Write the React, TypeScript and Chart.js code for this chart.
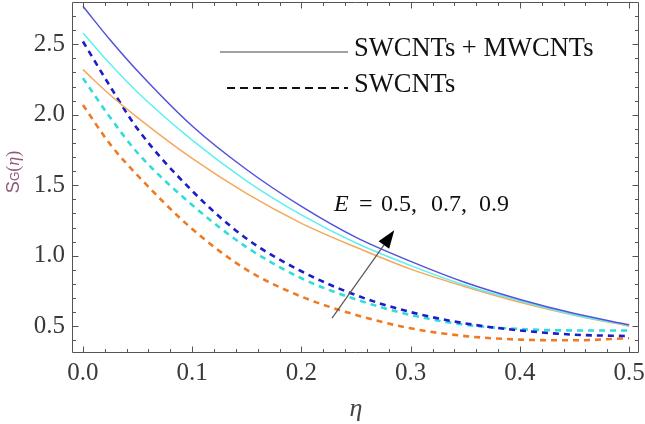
import React, { useEffect, useRef } from "react";
import { Chart, registerables } from "chart.js";
Chart.register(...registerables);

const eta = [0, 0.025, 0.05, 0.1, 0.15, 0.2, 0.25, 0.3, 0.35, 0.4, 0.45, 0.5];
const hybridE09 = [2.77, 2.53, 2.31, 1.92, 1.61, 1.35, 1.13, 0.96, 0.81, 0.69, 0.59, 0.51];
const hybridE07 = [2.58, 2.36, 2.16, 1.82, 1.53, 1.29, 1.09, 0.93, 0.79, 0.68, 0.58, 0.505];
const hybridE05 = [2.32, 2.14, 1.98, 1.69, 1.44, 1.23, 1.06, 0.905, 0.78, 0.67, 0.578, 0.5];
const swE09 = [2.52, 2.2, 1.9, 1.46, 1.12, 0.89, 0.72, 0.6, 0.52, 0.47, 0.44, 0.43];
const swE07 = [2.26, 1.98, 1.73, 1.36, 1.06, 0.84, 0.69, 0.58, 0.51, 0.48, 0.47, 0.47];
const swE05 = [2.07, 1.79, 1.57, 1.19, 0.9, 0.71, 0.58, 0.485, 0.43, 0.405, 0.4, 0.415];

const xTicks = [0, 0.1, 0.2, 0.3, 0.4, 0.5];
const yTicks = [0.5, 1.0, 1.5, 2.0, 2.5];
const legendLabels = ["SWCNTs + MWCNTs", "SWCNTs"];
const annotationParts = ["=", "0.5,", "0.7,", "0.9"];
// arrow in data coordinates: tail -> head
const arrowTail = { x: 0.228, y: 0.557 };
const arrowHead = { x: 0.285, y: 1.18 };

const SERIF = "'Liberation Serif', 'Times New Roman', serif";

export default function App() {
  const ref = useRef<HTMLCanvasElement>(null);
  useEffect(() => {
    const canvas = ref.current!;
    const mk = (label: string, data: number[], color: string, width: number, dash: number[]) => ({
      label,
      data: eta.map((x, i) => ({ x, y: data[i] })),
      borderColor: color,
      borderWidth: width,
      borderDash: dash,
      pointRadius: 0,
      fill: false,
      cubicInterpolationMode: "monotone" as const,
    });

    const framePlugin = {
      id: "frame",
      afterDatasetsDraw(chart: any) {
        const c = chart.ctx as CanvasRenderingContext2D;
        const { left, right, top, bottom } = chart.chartArea;
        const xs = chart.scales.x;
        const ys = chart.scales.y;
        c.save();
        c.strokeStyle = "#555";
        c.lineWidth = 1;
        const L = Math.round(left) + 0.5, R = Math.round(right) - 0.5;
        const T = Math.round(top) + 0.5, B = Math.round(bottom) - 0.5;
        c.beginPath();
        c.rect(L, T, R - L, B - T);
        c.stroke();
        c.beginPath();
        for (let i = 0; i <= 25; i++) {
          const v = i * 0.02;
          const px = Math.round(xs.getPixelForValue(v)) + 0.5;
          const len = i % 5 === 0 ? 6 : 3.5;
          c.moveTo(px, B); c.lineTo(px, B - len);
          c.moveTo(px, T); c.lineTo(px, T + len);
        }
        for (let i = 4; i <= 27; i++) {
          const v = i * 0.1;
          const py = Math.round(ys.getPixelForValue(v)) + 0.5;
          const len = i % 5 === 0 ? 6 : 3.5;
          c.moveTo(L, py); c.lineTo(L + len, py);
          c.moveTo(R, py); c.lineTo(R - len, py);
        }
        c.stroke();

        // legend
        c.strokeStyle = "#444";
        c.lineWidth = 1.2;
        c.beginPath(); c.moveTo(220, 52); c.lineTo(348, 52); c.stroke();
        c.strokeStyle = "#111";
        c.lineWidth = 2;
        c.setLineDash([8, 5]);
        c.beginPath(); c.moveTo(227, 88); c.lineTo(348, 88); c.stroke();
        c.setLineDash([]);
        c.fillStyle = "#111";
        c.font = `26.5px ${SERIF}`;
        c.textBaseline = "alphabetic";
        c.textAlign = "left";
        c.fillText(legendLabels[0], 354, 56);
        c.fillText(legendLabels[1], 354, 92);

        // annotation text
        c.font = `italic 24px ${SERIF}`;
        c.fillText("E", 334, 211);
        c.font = `24px ${SERIF}`;
        const xsPos = [359, 381, 431, 479];
        annotationParts.forEach((t, i) => c.fillText(t, xsPos[i], 211));

        // arrow
        const x1 = xs.getPixelForValue(arrowTail.x), y1 = ys.getPixelForValue(arrowTail.y);
        const x2 = xs.getPixelForValue(arrowHead.x), y2 = ys.getPixelForValue(arrowHead.y);
        const ang = Math.atan2(y2 - y1, x2 - x1);
        const hl = 18, hw = 6.5;
        const bx = x2 - hl * Math.cos(ang), by = y2 - hl * Math.sin(ang);
        c.strokeStyle = "#555";
        c.lineWidth = 1.2;
        c.beginPath(); c.moveTo(x1, y1); c.lineTo(bx, by); c.stroke();
        c.fillStyle = "#000";
        c.beginPath();
        c.moveTo(x2, y2);
        c.lineTo(bx + hw * Math.sin(ang), by - hw * Math.cos(ang));
        c.lineTo(bx - hw * Math.sin(ang), by + hw * Math.cos(ang));
        c.closePath();
        c.fill();

        // x title
        c.fillStyle = "#444";
        c.font = `italic 26px ${SERIF}`;
        c.textAlign = "center";
        c.fillText("η", 356, 416);

        // y title
        c.save();
        c.translate(19, 172);
        c.rotate(-Math.PI / 2);
        c.fillStyle = "#8c5878";
        c.textAlign = "left";
        const parts: [string, string][] = [
          ["S", `18px 'Liberation Sans', sans-serif`],
          ["G", `12px 'Liberation Sans', sans-serif`],
          ["(", `18px ${SERIF}`],
          ["η", `italic 18px ${SERIF}`],
          [")", `18px ${SERIF}`],
        ];
        let total = 0;
        const widths = parts.map(([t, f]) => { c.font = f; const w = c.measureText(t).width; total += w; return w; });
        let xx = -total / 2;
        parts.forEach(([t, f], i) => { c.font = f; c.fillText(t, xx, 0); xx += widths[i]; });
        c.restore();
        c.restore();
      },
    };

    const chart = new Chart(canvas, {
      type: "line",
      data: {
        datasets: [
          mk("SWCNTs + MWCNTs E=0.9", hybridE09, "#5252dc", 1.5, []),
          mk("SWCNTs + MWCNTs E=0.7", hybridE07, "#5cf0f0", 1.5, []),
          mk("SWCNTs + MWCNTs E=0.5", hybridE05, "#f5a85c", 1.5, []),
          mk("SWCNTs E=0.9", swE09, "#1c1cc8", 2.6, [6, 5]),
          mk("SWCNTs E=0.7", swE07, "#30dcdc", 2.6, [6, 5]),
          mk("SWCNTs E=0.5", swE05, "#f07a22", 2.6, [6, 5]),
        ],
      },
      options: {
        animation: false,
        responsive: false,
        maintainAspectRatio: false,
        layout: { padding: { top: 2, right: 6, left: 0, bottom: 0 } },
        plugins: { legend: { display: false }, tooltip: { enabled: false } },
        scales: {
          x: {
            type: "linear",
            min: -0.01,
            max: 0.509,
            afterBuildTicks: (s: any) => { s.ticks = xTicks.map((v) => ({ value: v })); },
            afterFit: (s: any) => { s.height = 71; s.paddingLeft = 0; s.paddingRight = 0; },
            ticks: {
              callback: (v: any) => Number(v).toFixed(1),
              font: { family: "Liberation Serif", size: 25 },
              color: "#3a3a3a",
              padding: 5,
              maxRotation: 0,
              autoSkip: false,
            },
            grid: { display: false, drawTicks: false },
            border: { display: false },
          },
          y: {
            type: "linear",
            min: 0.31,
            max: 2.8,
            afterBuildTicks: (s: any) => { s.ticks = yTicks.map((v) => ({ value: v })); },
            afterFit: (s: any) => { s.width = 72; s.paddingTop = 0; s.paddingBottom = 0; },
            ticks: {
              callback: (v: any) => Number(v).toFixed(1),
              font: { family: "Liberation Serif", size: 25 },
              color: "#3a3a3a",
              padding: 7,
              autoSkip: false,
            },
            grid: { display: false, drawTicks: false },
            border: { display: false },
          },
        },
      },
      plugins: [framePlugin],
    } as any);
    return () => chart.destroy();
  }, []);
  return (
    <div style={{ position: "fixed", left: 0, top: 0, width: 645, height: 424, background: "#fff" }}>
      <canvas ref={ref} width={645} height={424} style={{ width: 645, height: 424, display: "block" }} />
    </div>
  );
}
